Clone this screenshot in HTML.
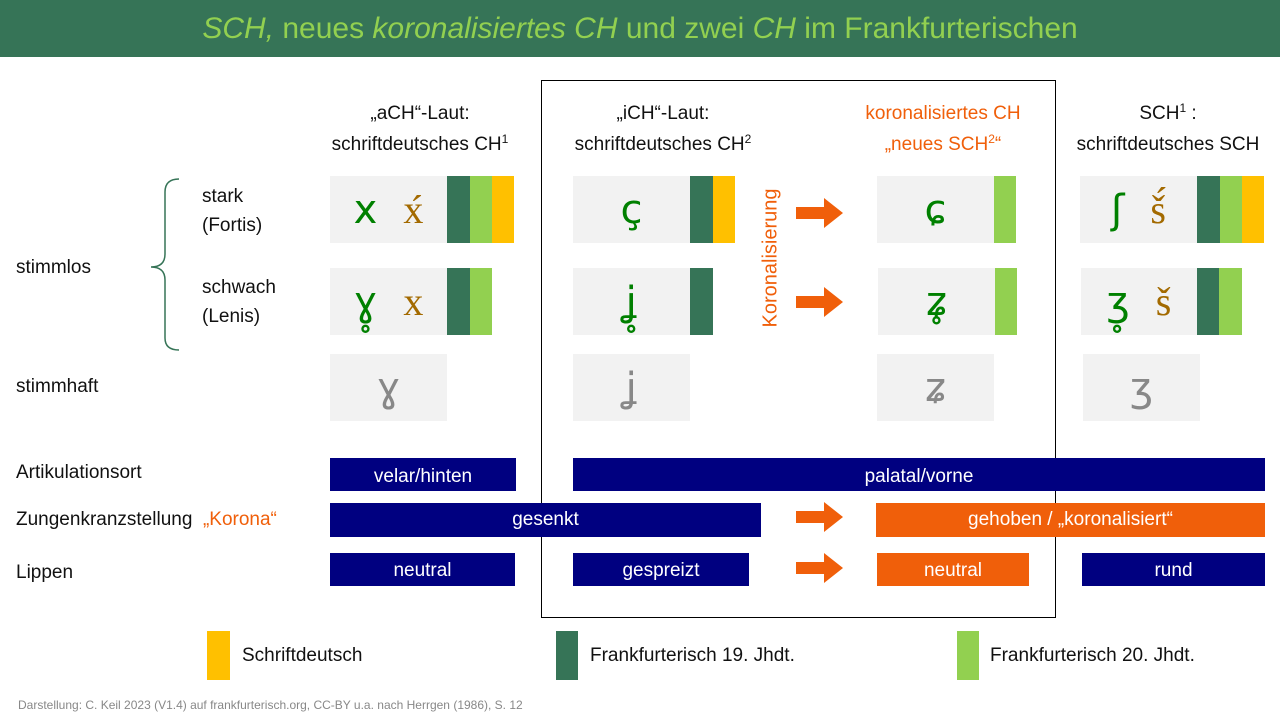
<!DOCTYPE html>
<html><head><meta charset="utf-8"><style>
*{margin:0;padding:0;box-sizing:border-box}
body{width:1280px;height:720px;position:relative;background:#fff;font-family:"Liberation Sans","DejaVu Sans",sans-serif;overflow:hidden;color:#111}
div{position:absolute}
.t{white-space:nowrap;font-size:19px}
.g{background:#f2f2f2;display:flex;align-items:center;justify-content:center;font-family:"DejaVu Sans",sans-serif;font-size:40px;color:#008000}
.d{background:#367457}.l{background:#92D050}.y{background:#FFC000}
.b{background:#000080;color:#fff;font-size:19px;display:flex;align-items:center;justify-content:center}
.o{background:#F05F0A}
.br{color:#A36A00;font-family:"Liberation Serif",serif;margin-left:26px}
.gr{color:#888}
.c{text-align:center;font-size:19px;line-height:31px;white-space:nowrap}
sup{font-size:12px;line-height:0;vertical-align:7px}
</style></head><body>
<div style="left:0;top:0;width:1280px;height:57px;background:#367457;color:#92D050;font-size:30px;text-align:center;line-height:57px;white-space:nowrap"><i>SCH,</i> neues <i>koronalisiertes CH</i> und zwei <i>CH</i> im Frankfurterischen</div>

<div style="left:541px;top:80px;width:515px;height:538px;border:1.5px solid #000"></div>

<div class="c" style="left:300px;top:98px;width:240px">„aCH“-Laut:<br>schriftdeutsches CH<sup>1</sup></div>
<div class="c" style="left:543px;top:98px;width:240px">„iCH“-Laut:<br>schriftdeutsches CH<sup>2</sup></div>
<div class="c" style="left:823px;top:98px;width:240px;color:#F05F0A">koronalisiertes CH<br>„neues SCH<sup>2</sup>“</div>
<div class="c" style="left:1048px;top:98px;width:240px">SCH<sup>1</sup> :<br>schriftdeutsches SCH</div>

<div class="t" style="left:202px;top:182px;line-height:29px">stark<br>(Fortis)</div>
<div class="t" style="left:202px;top:273px;line-height:29px">schwach<br>(Lenis)</div>
<div class="t" style="left:16px;top:257px">stimmlos</div>
<div class="t" style="left:16px;top:376px">stimmhaft</div>
<svg style="position:absolute;left:145px;top:178px" width="40" height="174"><path d="M34 1 Q20 1 20 14 L20 76 Q20 89 6 89 Q20 89 20 102 L20 160 Q20 172 34 172" fill="none" stroke="#367457" stroke-width="1.5"/></svg>

<div class="g" style="left:330px;top:176px;width:117px;height:67px">x<span class="br">x́</span></div>
<div class="d" style="left:447px;top:176px;width:23px;height:67px"></div><div class="l" style="left:470px;top:176px;width:22px;height:67px"></div><div class="y" style="left:492px;top:176px;width:22px;height:67px"></div>
<div class="g" style="left:330px;top:268px;width:117px;height:67px">ɣ̥<span class="br">x</span></div>
<div class="d" style="left:447px;top:268px;width:23px;height:67px"></div><div class="l" style="left:470px;top:268px;width:22px;height:67px"></div>
<div class="g gr" style="left:330px;top:354px;width:117px;height:67px">ɣ</div>

<div class="g" style="left:573px;top:176px;width:117px;height:67px">ç</div>
<div class="d" style="left:690px;top:176px;width:23px;height:67px"></div><div class="y" style="left:713px;top:176px;width:22px;height:67px"></div>
<div class="g" style="left:573px;top:268px;width:117px;height:67px">ʝ̥</div>
<div class="d" style="left:690px;top:268px;width:23px;height:67px"></div>
<div class="g gr" style="left:573px;top:354px;width:117px;height:67px">ʝ</div>

<div class="g" style="left:877px;top:176px;width:117px;height:67px">ɕ</div>
<div class="l" style="left:994px;top:176px;width:22px;height:67px"></div>
<div class="g" style="left:878px;top:268px;width:117px;height:67px">ʑ̥</div>
<div class="l" style="left:995px;top:268px;width:22px;height:67px"></div>
<div class="g gr" style="left:877px;top:354px;width:117px;height:67px">ʑ</div>

<div class="g" style="left:1080px;top:176px;width:117px;height:67px">ʃ<span class="br">š́</span></div>
<div class="d" style="left:1197px;top:176px;width:23px;height:67px"></div><div class="l" style="left:1220px;top:176px;width:22px;height:67px"></div><div class="y" style="left:1242px;top:176px;width:22px;height:67px"></div>
<div class="g" style="left:1081px;top:268px;width:116px;height:67px">ʒ̥<span class="br">š</span></div>
<div class="d" style="left:1197px;top:268px;width:22px;height:67px"></div><div class="l" style="left:1219px;top:268px;width:23px;height:67px"></div>
<div class="g gr" style="left:1083px;top:354px;width:117px;height:67px">ʒ</div>

<div class="t" style="left:771px;top:258px;color:#F05F0A;font-size:20px;transform:translate(-50%,-50%) rotate(-90deg)">Koronalisierung</div>

<svg style="position:absolute;left:0;top:0" width="1280" height="720">
<g fill="#F05F0A">
<path d="M796 207h28v-9l19 15-19 15v-9h-28z"/>
<path d="M796 296h28v-9l19 15-19 15v-9h-28z"/>
<path d="M796 511h28v-9l19 15-19 15v-9h-28z"/>
<path d="M796 562h28v-9l19 15-19 15v-9h-28z"/>
</g></svg>

<div class="t" style="left:16px;top:462px">Artikulationsort</div>
<div class="t" style="left:16px;top:509px">Zungenkranzstellung <span style="color:#F05F0A">&nbsp;„Korona“</span></div>
<div class="t" style="left:16px;top:562px">Lippen</div>

<div class="b" style="left:330px;top:458px;width:186px;height:33px;padding-top:4px">velar/hinten</div>
<div class="b" style="left:573px;top:458px;width:692px;height:33px;padding-top:4px">palatal/vorne</div>
<div class="b" style="left:330px;top:503px;width:431px;height:34px">gesenkt</div>
<div class="b o" style="left:876px;top:503px;width:389px;height:34px">gehoben / „koronalisiert“</div>
<div class="b" style="left:330px;top:553px;width:185px;height:33px;padding-top:3px">neutral</div>
<div class="b" style="left:573px;top:553px;width:176px;height:33px;padding-top:3px">gespreizt</div>
<div class="b o" style="left:877px;top:553px;width:152px;height:33px;padding-top:3px">neutral</div>
<div class="b" style="left:1082px;top:553px;width:183px;height:33px;padding-top:3px">rund</div>

<div class="y" style="left:207px;top:631px;width:23px;height:49px"></div>
<div class="t" style="left:242px;top:645px">Schriftdeutsch</div>
<div class="d" style="left:556px;top:631px;width:22px;height:49px"></div>
<div class="t" style="left:590px;top:645px">Frankfurterisch 19. Jhdt.</div>
<div class="l" style="left:957px;top:631px;width:22px;height:49px"></div>
<div class="t" style="left:990px;top:645px">Frankfurterisch 20. Jhdt.</div>

<div class="t" style="left:18px;top:698px;font-size:12px;color:#888">Darstellung: C. Keil 2023 (V1.4) auf frankfurterisch.org, CC-BY u.a. nach Herrgen (1986), S. 12</div>
</body></html>
